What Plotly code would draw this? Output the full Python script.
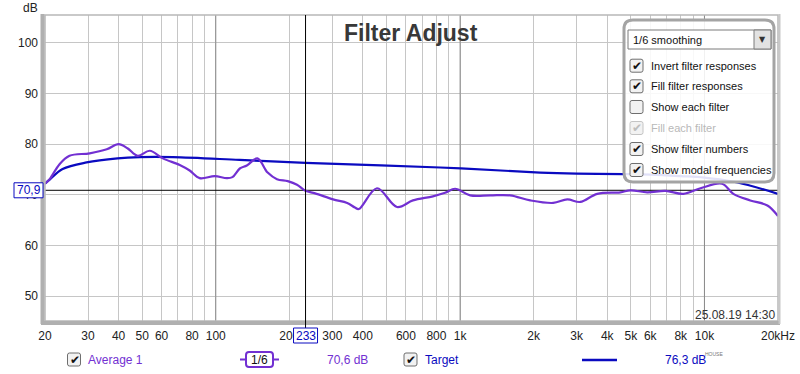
import math
import plotly.graph_objects as go

# ---------------- data ----------------
avg_freq = [20, 20.9, 22.9, 25.2, 30.5, 35.8, 40, 43.5, 47.9, 53.7, 60.7, 71.2, 78.2, 85.9,
            99, 111, 117, 125.4, 134, 148, 163, 178, 197, 215, 233, 255, 302, 345, 371, 385,
            457, 552, 641, 774, 868, 954, 1099, 1327, 1603, 1936, 2405, 2746, 3103, 3641,
            4527, 4978, 5837, 6918, 8200, 9636, 11800, 13130, 15400, 18100, 20000]
avg_db = [72.2, 73.1, 76.0, 77.7, 78.2, 79.0, 80.0, 79.2, 77.7, 78.7, 77.2, 75.9, 74.8, 73.3,
          73.7, 73.3, 73.5, 75.2, 75.8, 77.2, 74.4, 73.1, 72.7, 72.0, 70.8, 70.3, 69.1, 68.4, 67.5, 67.2,
          71.3, 67.6, 68.9, 69.7, 70.4, 71.2, 69.9, 69.9, 69.9, 68.9, 68.4, 69.1, 68.6, 70.2,
          70.5, 70.9, 70.5, 70.8, 70.2, 71.3, 72.2, 70.2, 68.9, 67.9, 65.8]

target_freq = [20, 20.9, 23.6, 29.6, 39.6, 48.9, 66.8, 125, 233, 828, 2127, 3000, 4657,
               6000, 8000, 10000, 13130, 16000, 20000]
target_db = [72.2, 73.0, 75.1, 76.4, 77.2, 77.45, 77.45, 76.9, 76.3, 75.4, 74.4, 74.2, 74.1,
             74.0, 73.7, 73.4, 72.6, 71.6, 70.2]

grid_freqs = [20, 30, 40, 50, 60, 70, 80, 90, 100, 200, 300, 400, 500, 600, 700, 800, 900,
              1000, 2000, 3000, 4000, 5000, 6000, 7000, 8000, 9000, 10000, 20000]
grid_labels = ["20", "30", "40", "50", "60", "", "80", "", "100", "200", "300", "400", "", "600",
               "", "800", "", "1k", "2k", "3k", "4k", "5k", "6k", "", "8k", "", "10k", "20kHz"]
major_freqs = [100, 1000, 10000]
db_ticks = [50, 60, 70, 80, 90, 100]

cursor_freq = 233
cursor_db = 70.9
avg_readout = "70,6 dB"
target_readout = "76,3 dB"
series_names = ["Average 1", "Target"]
options = [("Invert filter responses", True, True), ("Fill filter responses", True, True),
           ("Show each filter", False, True), ("Fill each filter", True, False),
           ("Show filter numbers", True, True), ("Show modal frequencies", True, True)]

AVG_COLOR = "#7230d2"
TGT_COLOR = "#0a0ac0"
FONT = "Liberation Sans, Arial, sans-serif"

# ---------------- geometry helpers (pixels -> paper) ----------------
W, H = 800, 374
L, R, T, B = 45, 778, 15, 321
XMIN, XMAX = 20, 20000
YMIN, YMAX = 45.1, 105.5


def px(x):
    return (x - L) / (R - L)


def py(y):
    return (B - y) / (B - T)


def fx(f):
    return (math.log10(f) - math.log10(XMIN)) / (math.log10(XMAX) - math.log10(XMIN))


def rounded(x0, y0, x1, y1, r):
    def P(x, y):
        return f"{px(x):.5f},{py(y):.5f}"
    return (f"M {P(x0 + r, y0)} L {P(x1 - r, y0)} Q {P(x1, y0)} {P(x1, y0 + r)} "
            f"L {P(x1, y1 - r)} Q {P(x1, y1)} {P(x1 - r, y1)} L {P(x0 + r, y1)} "
            f"Q {P(x0, y1)} {P(x0, y1 - r)} L {P(x0, y0 + r)} Q {P(x0, y0)} {P(x0 + r, y0)} Z")


fig = go.Figure()

# major grid lines (darker)
for mf in major_freqs:
    fig.add_trace(go.Scatter(x=[mf, mf], y=[YMIN, YMAX], mode="lines",
                             line=dict(color="#8a8a8a", width=1), hoverinfo="skip", showlegend=False))

# horizontal cursor
fig.add_trace(go.Scatter(x=[XMIN, XMAX], y=[cursor_db, cursor_db], mode="lines",
                         line=dict(color="#000000", width=1), hoverinfo="skip", showlegend=False))

fig.add_trace(go.Scatter(x=target_freq, y=target_db, mode="lines", name=series_names[1],
                         line=dict(color=TGT_COLOR, width=2.2, shape="spline", smoothing=1.0),
                         showlegend=False))
fig.add_trace(go.Scatter(x=avg_freq, y=avg_db, mode="lines", name=series_names[0],
                         line=dict(color=AVG_COLOR, width=2.2, shape="spline", smoothing=1.0),
                         showlegend=False))

shapes = []
ann = []

# frame
shapes.append(dict(type="rect", xref="paper", yref="paper", x0=px(L), x1=px(R), y0=py(B), y1=py(T),
                   line=dict(color="#b8b8b8", width=1.5), layer="above"))
shapes.append(dict(type="line", xref="paper", yref="paper", x0=px(42.5), x1=px(42.5), y0=py(14), y1=py(324),
                   line=dict(color="#b0b0b0", width=4), layer="above"))
shapes.append(dict(type="line", xref="paper", yref="paper", x0=px(41), x1=px(780), y0=py(323), y1=py(323),
                   line=dict(color="#b0b0b0", width=4), layer="above"))
shapes.append(dict(type="line", xref="paper", yref="paper", x0=px(779.5), x1=px(779.5), y0=py(14), y1=py(324),
                   line=dict(color="#c8c8c8", width=2), layer="above"))

# vertical cursor
cx = fx(cursor_freq)
shapes.append(dict(type="line", xref="paper", yref="paper", x0=cx, x1=cx, y0=py(T), y1=py(328),
                   line=dict(color="#000000", width=1), layer="above"))

# cursor boxes
half = px(L + 12) - px(L)
shapes.append(dict(type="rect", xref="paper", yref="paper", x0=cx - half, x1=cx + half,
                   y0=py(343), y1=py(328),
                   line=dict(color=TGT_COLOR, width=1), fillcolor="white", layer="above"))
ann.append(dict(x=cx, y=py(335.5), xref="paper", yref="paper", text=str(cursor_freq), showarrow=False,
                font=dict(family=FONT, size=12, color=TGT_COLOR), xanchor="center", yanchor="middle"))
cy = (cursor_db - YMIN) / (YMAX - YMIN)
hh = py(184) - py(191.5)
shapes.append(dict(type="rect", xref="paper", yref="paper", x0=px(14), x1=px(43), y0=cy - hh, y1=cy + hh,
                   line=dict(color=TGT_COLOR, width=1), fillcolor="white", layer="above"))
ann.append(dict(x=px(28.5), y=cy, xref="paper", yref="paper", text=f"{cursor_db}".replace(".", ","),
                showarrow=False, font=dict(family=FONT, size=12, color=TGT_COLOR),
                xanchor="center", yanchor="middle"))

# title and labels
ann.append(dict(x=px(411), y=py(33), xref="paper", yref="paper", text="<b>Filter Adjust</b>", showarrow=False,
                font=dict(family=FONT, size=23, color="#383838"), xanchor="center", yanchor="middle"))
ann.append(dict(x=px(30), y=py(8), xref="paper", yref="paper", text="dB", showarrow=False,
                font=dict(family=FONT, size=12, color="#222222"), xanchor="center", yanchor="middle"))
ann.append(dict(x=px(777), y=py(315), xref="paper", yref="paper", text="25.08.19 14:30", showarrow=False,
                font=dict(family=FONT, size=12, color="#333333"), xanchor="right", yanchor="middle"))

# options panel
shapes.append(dict(type="path", xref="paper", yref="paper", path=rounded(624, 20, 774, 182, 9),
                   line=dict(color="#a4a4a4", width=3), fillcolor="rgba(255,255,255,0.88)", layer="above"))
shapes.append(dict(type="rect", xref="paper", yref="paper", x0=px(628), x1=px(771), y0=py(49), y1=py(30),
                   line=dict(color="#7a7a7a", width=1), fillcolor="white", layer="above"))
shapes.append(dict(type="rect", xref="paper", yref="paper", x0=px(754), x1=px(771), y0=py(49), y1=py(30),
                   line=dict(color="#7a7a7a", width=1), fillcolor="#e2e2e2", layer="above"))
ann.append(dict(x=px(762.5), y=py(39.5), xref="paper", yref="paper", text="▼", showarrow=False,
                font=dict(family="DejaVu Sans", size=8, color="#333333"), xanchor="center", yanchor="middle"))
ann.append(dict(x=px(631), y=py(39.5), xref="paper", yref="paper", text="1/6 smoothing", showarrow=False,
                font=dict(family=FONT, size=11, color="#111111"), xanchor="left", yanchor="middle"))


def checkbox(cxp, cyp, checked, enabled):
    border = "#6e6e6e" if enabled else "#c4c4c4"
    shapes.append(dict(type="path", xref="paper", yref="paper",
                       path=rounded(cxp - 6.5, cyp - 6.5, cxp + 6.5, cyp + 6.5, 2),
                       line=dict(color=border, width=1), fillcolor="#f2f2f2", layer="above"))
    if checked:
        ann.append(dict(x=px(cxp + 0.5), y=py(cyp), xref="paper", yref="paper", text="✔", showarrow=False,
                        font=dict(family="DejaVu Sans", size=12, color="#111111" if enabled else "#bdbdbd"),
                        xanchor="center", yanchor="middle"))


row_y = [65.7, 86.3, 107, 128, 149, 170]
for (label, checked, enabled), ry in zip(options, row_y):
    checkbox(636.5, ry, checked, enabled)
    ann.append(dict(x=px(649), y=py(ry), xref="paper", yref="paper", text=label, showarrow=False,
                    font=dict(family=FONT, size=11, color="#111111" if enabled else "#b8b8b8"),
                    xanchor="left", yanchor="middle"))

# bottom legend row
LY = 359.5
checkbox(74, LY, True, True)
ann.append(dict(x=px(86), y=py(LY), xref="paper", yref="paper", text=series_names[0], showarrow=False,
                font=dict(family=FONT, size=12, color=AVG_COLOR), xanchor="left", yanchor="middle"))
shapes.append(dict(type="line", xref="paper", yref="paper", x0=px(240), x1=px(279), y0=py(LY), y1=py(LY),
                   line=dict(color=AVG_COLOR, width=2), layer="above"))
shapes.append(dict(type="path", xref="paper", yref="paper", path=rounded(246, 352, 273, 367, 3),
                   line=dict(color=AVG_COLOR, width=2), fillcolor="white", layer="above"))
ann.append(dict(x=px(259.5), y=py(LY), xref="paper", yref="paper", text="1/6", showarrow=False,
                font=dict(family=FONT, size=12, color="#111111"), xanchor="center", yanchor="middle"))
ann.append(dict(x=px(325), y=py(LY), xref="paper", yref="paper", text=avg_readout, showarrow=False,
                font=dict(family=FONT, size=12, color=AVG_COLOR), xanchor="left", yanchor="middle"))
checkbox(410.5, LY, True, True)
ann.append(dict(x=px(423), y=py(LY), xref="paper", yref="paper", text=series_names[1], showarrow=False,
                font=dict(family=FONT, size=12, color=TGT_COLOR), xanchor="left", yanchor="middle"))
shapes.append(dict(type="line", xref="paper", yref="paper", x0=px(582), x1=px(617), y0=py(360), y1=py(360),
                   line=dict(color=TGT_COLOR, width=2.5), layer="above"))
ann.append(dict(x=px(663), y=py(LY), xref="paper", yref="paper", text=target_readout, showarrow=False,
                font=dict(family=FONT, size=12, color=TGT_COLOR), xanchor="left", yanchor="middle"))
ann.append(dict(x=px(703), y=py(354), xref="paper", yref="paper", text="HOUSE", showarrow=False,
                font=dict(family=FONT, size=5, color="#777777"), xanchor="left", yanchor="middle"))

fig.update_layout(
    width=W, height=H,
    margin=dict(l=L, r=W - R, t=T, b=H - B, autoexpand=False),
    paper_bgcolor="white", plot_bgcolor="white",
    showlegend=False, hovermode=False,
    shapes=shapes, annotations=ann,
    xaxis=dict(type="log", range=[math.log10(XMIN), math.log10(XMAX)],
               tickmode="array", tickvals=grid_freqs, ticktext=grid_labels,
               showgrid=True, gridcolor="#c6c6c6", gridwidth=1, zeroline=False, showline=False,
               ticks="", ticklabelstandoff=6, automargin=False,
               tickfont=dict(family=FONT, size=12, color="#222222")),
    yaxis=dict(range=[YMIN, YMAX], tickmode="array", tickvals=db_ticks,
               showgrid=True, gridcolor="#c6c6c6", gridwidth=1, zeroline=False, showline=False,
               ticks="", ticklabelstandoff=6, automargin=False,
               tickfont=dict(family=FONT, size=12, color="#222222")),
)

fig.write_html("out.html", config={"displayModeBar": False},
               post_script="document.body.style.margin='0';document.body.style.overflow='hidden';")
